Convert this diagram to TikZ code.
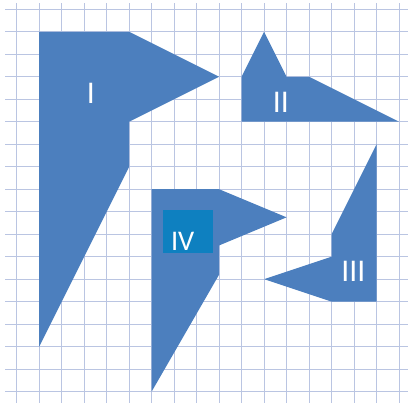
\documentclass[tikz,border=0pt]{standalone}
\usepackage{fontspec}
\setmainfont{Carlito}
\definecolor{pieceblue}{RGB}{76,127,190}
\definecolor{tagblue}{RGB}{14,128,192}
\definecolor{gridblue}{RGB}{186,197,226}

\begin{document}
\begin{tikzpicture}[
    x=0.5cm, y=-0.5cm,
    gridline/.style={draw=gridblue, line width=0.6pt},
    piece/.style={fill=pieceblue, draw=none},
    numeral/.style={text=white, font=\fontsize{20}{24}\selectfont, inner sep=0pt},
    tagbox/.style={fill=tagblue, draw=none, minimum width=1.11cm, minimum height=0.96cm, inner sep=0pt}
  ]
  \useasboundingbox (-0.743,-0.414) rectangle (17.40,17.506);

  \foreach \k in {0,...,17} {
    \draw[gridline] (-0.52,\k) -- (17.45,\k);
    \draw[gridline] (\k,-0.28) -- (\k,17.55);
  }

  \fill[piece] (1,1) -- (5,1) -- (9,3) -- (5,5) -- (5,7) -- (1,15) -- cycle;
  \fill[piece] (11,1) -- (12,3) -- (13,3) -- (17,5) -- (10,5) -- (10,3) -- cycle;
  \fill[piece] (16,6) -- (16,13) -- (14,13) -- (11,12) -- (14,11) -- (14,10) -- cycle;
  \fill[piece] (6,8) -- (9,8) -- (12,9.25) -- (9,10.5) -- (9,11.8) -- (6,17) -- cycle;

  \node[numeral] (one) at (3.3,3.72) {I};
  \node[numeral] (two) at (11.75,4.14) {II};
  \node[numeral] (three) at (14.97,11.67) {III};
  \node[tagbox] (fourbox) at (7.6,9.89) {};
  \node[numeral, font=\fontsize{18}{22}\selectfont] (four) at (7.38,10.3) {IV};
\end{tikzpicture}
\end{document}
